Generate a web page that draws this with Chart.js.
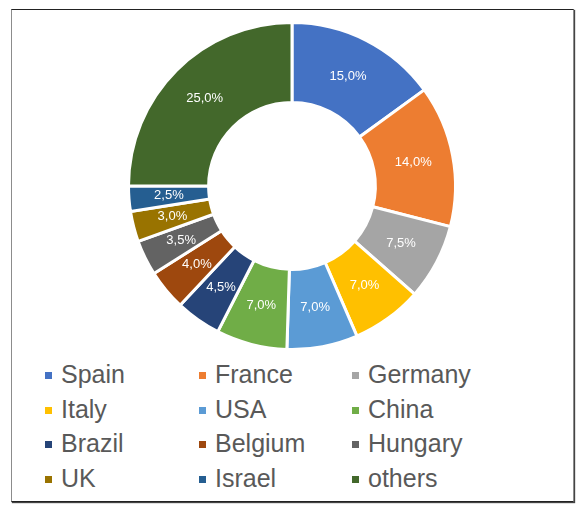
<!DOCTYPE html>
<html>
<head>
<meta charset="utf-8">
<script src="https://cdn.jsdelivr.net/npm/chart.js@4.4.1/dist/chart.umd.min.js"></script>
<style>
    html, body { margin: 0; padding: 0; background: #fff; }
    #frame {
        position: absolute; left: 11px; top: 9px; width: 561px; height: 491px;
        border: 1px solid #8c8c8c; border-top-color: #222; border-bottom-color: #222;
        box-shadow: 1px 1px 1px #444;
    }
    #box { position: absolute; left: 122px; top: 16px; width: 340px; height: 340px; }
    #legend {
        position: absolute; left: 45px; top: 357px; width: 520px;
        display: grid; grid-template-columns: 154px 153px 160px;
        font-family: "Liberation Sans", Arial, sans-serif; font-size: 25px; color: #595959;
    }
    .item { height: 34.5px; line-height: 34.5px; white-space: nowrap; }
    .sw { display: inline-block; width: 7px; height: 7px; margin-right: 9px; vertical-align: 4px; }
</style>
</head>
<body>
<div id="frame"></div>
<div id="box"><canvas id="pie"></canvas></div>
<div id="legend"></div>
<script>
// shares per country (%)
var pays = ['Spain', 'France', 'Germany', 'Italy', 'USA', 'China', 'Brazil', 'Belgium', 'Hungary', 'UK', 'Israel', 'others'];
var parts = [15, 14, 7.5, 7, 7, 7, 4.5, 4, 3.5, 3, 2.5, 25];
var couleurs = ['#4472C4', '#ED7D31', '#A5A5A5', '#FFC000', '#5B9BD5', '#70AD47',
                '#264478', '#9E480E', '#636363', '#997300', '#255E91', '#43682B'];

// legend in 3 columns, like the original
var leg = document.getElementById('legend');
for (var i = 0; i < pays.length; i++) {
    var d = document.createElement('div');
    d.className = 'item';
    d.innerHTML = '<span class="sw" style="background:' + couleurs[i] + '"></span>' + pays[i];
    leg.appendChild(d);
}

// white percent labels in the middle of each slice
var etiquettes = {
    id: 'etiquettes',
    afterDatasetsDraw: function (chart) {
        var ctx = chart.ctx;
        var meta = chart.getDatasetMeta(0);
        ctx.save();
        ctx.font = '13px "Liberation Sans", Arial, sans-serif';
        ctx.fillStyle = '#ffffff';
        ctx.textAlign = 'center';
        ctx.textBaseline = 'middle';
        meta.data.forEach(function (arc, i) {
            var p = arc.tooltipPosition();
            ctx.fillText(parts[i].toFixed(1).replace('.', ',') + '%', p.x, p.y);
        });
        ctx.restore();
    }
};

var ctx = document.getElementById('pie');
var graph = new Chart(ctx, {
    type: 'doughnut',
    data: {
        labels: pays,
        datasets: [{
            data: parts,
            backgroundColor: couleurs,
            borderColor: '#ffffff',
            borderWidth: 3
        }]
    },
    options: {
        responsive: true,
        maintainAspectRatio: false,
        animation: false,
        cutout: '51%',
        layout: { padding: 5 },
        plugins: {
            legend: { display: false },
            tooltip: { enabled: false }
        }
    },
    plugins: [etiquettes]
});
</script>
</body>
</html>
